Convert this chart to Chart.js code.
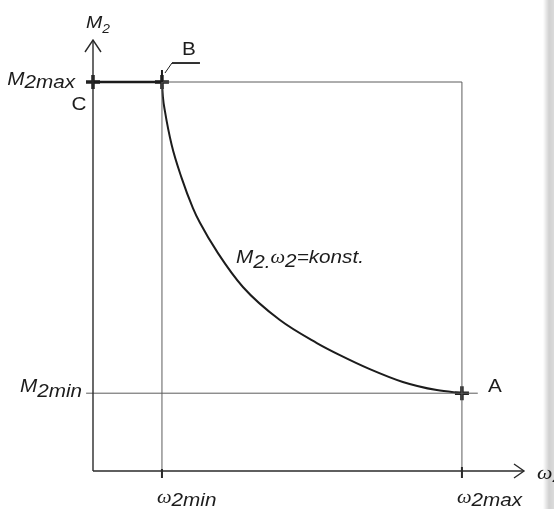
<!DOCTYPE html>
<html>
<head>
<meta charset="utf-8">
<script src="https://cdn.jsdelivr.net/npm/chart.js@4"></script>
<style>
    body { margin: 0; background: #fff; }
    #wrap { position: relative; width: 554px; height: 509px; }
    #edge {
        position: absolute; left: 543px; top: 0; width: 11px; height: 509px;
        background: linear-gradient(to right, rgba(0,0,0,0), rgba(0,0,0,0.18) 55%, rgba(0,0,0,0.14));
        pointer-events: none;
    }
</style>
</head>
<body>
<div id="wrap">
    <canvas id="chart" width="554" height="509"></canvas>
    <div id="edge"></div>
</div>
<script>
// speed / torque working points
const omegaMin = 1.0;
const omegaMax = 5.35;
const torqueMax = 1.0;
const torqueMin = 0.2;

// M2 * w2 = konst. curve from B to A
const curveOmega = [1.000, 1.014, 1.043, 1.141, 1.286, 1.449, 1.551, 1.812, 2.174, 2.710, 3.246, 3.580, 4.014, 4.493, 4.986, 5.350];
const curveTorque = [1.000, 0.961, 0.925, 0.838, 0.753, 0.676, 0.638, 0.560, 0.473, 0.388, 0.329, 0.298, 0.262, 0.229, 0.208, 0.200];

// axis extents
const omegaAxisMax = 6.25;
const torqueAxisMax = 1.108;
const tickOmega = -0.1;
const tickTorque = -0.018;

const curve = curveOmega.map((w, i) => ({ x: w, y: curveTorque[i] }));

const ink = '#1c1c1c';
const guide = '#5c5c5c';

function seg(points, color, width) {
    return {
        data: points,
        showLine: true,
        borderColor: color,
        borderWidth: width,
        pointRadius: 0,
        clip: false
    };
}

// text drawn in runs, slightly stretched like the drawing's lettering
const STRETCH = 1.15;
const sans = (size, style) => (style || 'italic') + ' ' + size + 'px "Liberation Sans", Arial, sans-serif';
const serif = size => 'italic ' + size + 'px "Liberation Serif", "Times New Roman", serif';

function drawRuns(ctx, runs, x, align) {
    let total = 0;
    runs.forEach(r => { ctx.font = r.font; total += ctx.measureText(r.text).width * STRETCH; });
    let cx = align === 'right' ? x - total : align === 'center' ? x - total / 2 : x;
    runs.forEach(r => {
        ctx.font = r.font;
        ctx.save();
        ctx.translate(cx, r.y);
        ctx.scale(STRETCH, 1);
        ctx.fillText(r.text, 0, 0);
        ctx.restore();
        cx += ctx.measureText(r.text).width * STRETCH;
    });
}

const annotations = {
    id: 'annotations',
    afterDatasetsDraw(chart) {
        const ctx = chart.ctx;
        const X = v => chart.scales.x.getPixelForValue(v);
        const Y = v => chart.scales.y.getPixelForValue(v);
        const x0 = X(0), y0 = Y(0);
        const xEnd = X(omegaAxisMax), yEnd = Y(torqueAxisMax);

        ctx.save();
        ctx.strokeStyle = '#2a2a2a';
        ctx.lineWidth = 1.4;
        // open arrow heads
        ctx.beginPath();
        ctx.moveTo(x0 - 8, yEnd + 12); ctx.lineTo(x0, yEnd); ctx.lineTo(x0 + 8, yEnd + 12);
        ctx.moveTo(xEnd - 10, y0 - 7); ctx.lineTo(xEnd, y0); ctx.lineTo(xEnd - 10, y0 + 7);
        ctx.stroke();

        // heavier tick under w2max
        ctx.lineWidth = 2;
        ctx.beginPath();
        ctx.moveTo(X(omegaMax), y0 - 4); ctx.lineTo(X(omegaMax), y0 + 7);
        ctx.moveTo(X(omegaMin), y0 - 2); ctx.lineTo(X(omegaMin), y0 + 7);
        ctx.stroke();

        // leader to label B
        const bx = X(omegaMin), by = Y(torqueMax);
        ctx.strokeStyle = ink;
        ctx.lineWidth = 2;
        ctx.beginPath();
        ctx.moveTo(bx, by - 12); ctx.lineTo(bx, by);
        ctx.stroke();
        ctx.lineWidth = 1;
        ctx.beginPath();
        ctx.moveTo(bx + 3, by - 9); ctx.lineTo(bx + 10, by - 19);
        ctx.stroke();
        ctx.lineWidth = 1.8;
        ctx.beginPath();
        ctx.moveTo(bx + 10, by - 19); ctx.lineTo(bx + 38, by - 19);
        ctx.stroke();

        ctx.fillStyle = ink;
        ctx.textBaseline = 'alphabetic';

        // axis titles
        drawRuns(ctx, [
            { text: 'M', font: sans(17), y: yEnd - 12 },
            { text: '2', font: sans(12), y: yEnd - 7 }
        ], x0 - 7, 'left');
        drawRuns(ctx, [
            { text: 'ω', font: serif(19), y: y0 + 8 },
            { text: '2', font: sans(14), y: y0 + 11 }
        ], xEnd + 13, 'left');

        // torque levels
        drawRuns(ctx, [
            { text: 'M', font: sans(18), y: Y(torqueMax) + 3 },
            { text: '2max', font: sans(18), y: Y(torqueMax) + 6 }
        ], x0 - 18, 'right');
        drawRuns(ctx, [
            { text: 'M', font: sans(18), y: Y(torqueMin) - 1 },
            { text: '2min', font: sans(18), y: Y(torqueMin) + 4 }
        ], x0 - 11, 'right');

        // speed levels
        drawRuns(ctx, [
            { text: 'ω', font: serif(18), y: y0 + 32 },
            { text: '2min', font: sans(18), y: y0 + 35 }
        ], X(omegaMin) - 5, 'left');
        drawRuns(ctx, [
            { text: 'ω', font: serif(18), y: y0 + 32 },
            { text: '2max', font: sans(18), y: y0 + 35 }
        ], X(omegaMax) - 5, 'left');

        // points A, B, C
        drawRuns(ctx, [{ text: 'C', font: sans(18, 'normal'), y: Y(torqueMax) + 28 }], x0 - 14, 'center');
        drawRuns(ctx, [{ text: 'B', font: sans(18, 'normal'), y: by - 27 }], bx + 20, 'left');
        drawRuns(ctx, [{ text: 'A', font: sans(18, 'normal'), y: Y(torqueMin) - 1 }], X(omegaMax) + 26, 'left');

        // curve label
        drawRuns(ctx, [
            { text: 'M', font: sans(18), y: 263 },
            { text: '2.', font: sans(18), y: 268 },
            { text: 'ω', font: serif(18), y: 263 },
            { text: '2', font: sans(18), y: 267 },
            { text: '=konst.', font: sans(18), y: 263 }
        ], 236, 'left');
        ctx.restore();
    }
};

new Chart(document.getElementById('chart'), {
    type: 'scatter',
    data: {
        datasets: [
            // axes
            seg([{ x: 0, y: 0 }, { x: 0, y: torqueAxisMax }], '#2a2a2a', 1.4),
            seg([{ x: 0, y: 0 }, { x: omegaAxisMax, y: 0 }], '#2a2a2a', 1.4),
            // guide lines
            seg([{ x: omegaMin, y: torqueMax }, { x: omegaMax, y: torqueMax }], guide, 1),
            seg([{ x: omegaMin, y: tickTorque }, { x: omegaMin, y: torqueMax }], guide, 1),
            seg([{ x: omegaMax, y: tickTorque }, { x: omegaMax, y: torqueMax }], guide, 1),
            seg([{ x: tickOmega, y: torqueMin }, { x: omegaMax + 0.23, y: torqueMin }], guide, 1),
            // constant torque C-B
            seg([{ x: 0, y: torqueMax }, { x: omegaMin, y: torqueMax }], ink, 2.4),
            // constant power B-A
            Object.assign(seg(curve, ink, 2), { cubicInterpolationMode: 'monotone' }),
            // working points
            {
                data: [{ x: 0, y: torqueMax }, { x: omegaMin, y: torqueMax }, { x: omegaMax, y: torqueMin }],
                pointStyle: 'cross',
                pointRadius: 7,
                borderWidth: 3.5,
                borderColor: '#222',
                clip: false
            }
        ]
    },
    options: {
        responsive: false,
        animation: false,
        layout: { padding: { left: 93, right: 30, top: 40, bottom: 38 } },
        scales: {
            x: { type: 'linear', min: 0, max: omegaAxisMax, display: false },
            y: { type: 'linear', min: 0, max: torqueAxisMax, display: false }
        },
        plugins: {
            legend: { display: false },
            tooltip: { enabled: false }
        }
    },
    plugins: [annotations]
});
</script>
</body>
</html>
